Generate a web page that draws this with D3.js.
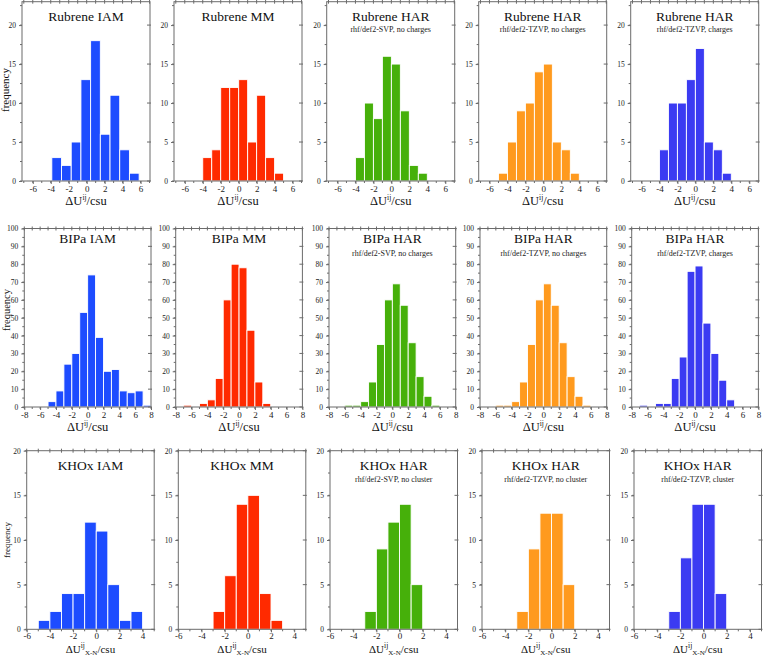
<!DOCTYPE html>
<html><head><meta charset="utf-8">
<script src="https://cdn.jsdelivr.net/npm/d3@7"></script>
<style>body{margin:0;background:#fff}svg{display:block}</style>
</head><body>
<script>
// ---- data ----
const titles = [
  ["Rubrene IAM","Rubrene MM","Rubrene HAR","Rubrene HAR","Rubrene HAR"],
  ["BIPa IAM","BIPa MM","BIPa HAR","BIPa HAR","BIPa HAR"],
  ["KHOx IAM","KHOx MM","KHOx HAR","KHOx HAR","KHOx HAR"]
];
const subtitles = [
  ["","","rhf/def2-SVP, no charges","rhf/def2-TZVP, no charges","rhf/def2-TZVP, charges"],
  ["","","rhf/def2-SVP, no charges","rhf/def2-TZVP, no charges","rhf/def2-TZVP, charges"],
  ["","","rhf/def2-SVP, no cluster","rhf/def2-TZVP, no cluster","rhf/def2-TZVP,  cluster"]
];
const rubreneCounts = [
  [3,2,5,13,18,6,11,4,1],
  [3,4,12,12,13,5,11,3,1],
  [3,10,8,16,15,9,2,1],
  [1,5,9,10,14,15,5,4,1],
  [4,10,10,13,17,5,4,1]
];
const rubreneStarts = [-3.88,-4,-4,-5,-4];
const rubreneWidths = [1.08,1,1,1,1];
const bipaCounts = [
  [3,9,24,30,53,74,39,20,21,9,8,9,1],
  [1,0,2,4,16,60,80,78,43,14,2],
  [1,1,3,14,35,60,69,57,36,17,6,1],
  [1,1,3,14,35,60,69,57,36,17,6,1],
  [1,0,2,2,16,28,76,79,47,30,15,4]
];
const bipaStarts = [-5,-7,-6,-6,-7];
const bipaWidths = [1,1,1,1,1];
const khoxCounts = [
  [1,2,4,4,12,11,5,1,2],
  [2,6,14,15,4,1],
  [2,9,12,14,5],
  [2,9,13,13,5],
  [2,8,14,14,4]
];
const khoxStarts = [-5,-3,-3,-3,-3];
const khoxWidths = [1,1,1,1,1];
const xTicks = [[-6,-4,-2,0,2,4,6],[-8,-6,-4,-2,0,2,4,6,8],[-6,-4,-2,0,2,4]];
const yTicks = [[0,5,10,15,20],[0,10,20,30,40,50,60,70,80,90,100],[0,5,10,15,20]];
const xDomains = [[-7.2,7.05],[-8,8],[-6,5]];
const yDomains = [[0,23],[0,100],[0,20]];
const colors = ["#1d4cff","#ff2a00","#46b00a","#ff9a1e","#3b3bf2"];

const counts = [rubreneCounts,bipaCounts,khoxCounts];
const starts = [rubreneStarts,bipaStarts,khoxStarts];
const widths = [rubreneWidths,bipaWidths,khoxWidths];

// ---- layout ----
const W = 764, H = 656;
const FONT = "'Liberation Serif','DejaVu Serif','Times New Roman',serif";
const rows = [
  {top:1.7, bottom:181, lefts:[22,174,326.7,478.7,630.7], w:128, titleY:21, subY:32, xlabY:205, xlabSize:12.5, tickDy:"0.6em", freqX:9, freqY:90, freqSize:11},
  {top:228.5, bottom:407, lefts:[24.3,175.7,329,480,631.7], w:126.7, titleY:243, subY:256, xlabY:431, xlabSize:12.5, tickDy:"0.6em", freqX:9.5, freqY:310, freqSize:10.5},
  {top:450.7, bottom:629.3, lefts:[26.7,178.3,330,482,634], w:127.5, titleY:470, subY:482, xlabY:652.5, xlabSize:11, tickDy:"0.45em", freqX:9.5, freqY:540, freqSize:9}
];
const svg = d3.select("body").append("svg").attr("width",W).attr("height",H)
  .attr("font-family",FONT).style("font-family",FONT);
const axisCol = "#6b6b6b";

rows.forEach((r,ri)=>{
  r.lefts.forEach((L,pi)=>{
    const x = d3.scaleLinear().domain(xDomains[ri]).range([L, L+r.w]);
    const y = d3.scaleLinear().domain(yDomains[ri]).range([r.bottom, r.top]);
    const g = svg.append("g");
    // bars
    const data = counts[ri][pi].map((c,i)=>({x0:starts[ri][pi]+i*widths[ri][pi], x1:starts[ri][pi]+(i+1)*widths[ri][pi], c}));
    g.selectAll("rect.bar").data(data.filter(d=>d.c>0)).join("rect")
      .attr("x",d=>x(d.x0)).attr("width",d=>x(d.x1)-x(d.x0))
      .attr("y",d=>y(d.c)).attr("height",d=>y(0)-y(d.c))
      .attr("fill",colors[pi]).attr("stroke","#fff").attr("stroke-width",0.9);
    // frame
    g.append("rect").attr("x",L).attr("y",r.top).attr("width",r.w).attr("height",r.bottom-r.top)
      .attr("fill","none").attr("stroke",axisCol).attr("stroke-width",1);
    // bottom axis
    const xb = d3.axisBottom(x).tickValues(xTicks[ri]).tickSize(3).tickFormat(d=>d<0?"-"+Math.abs(d):d);
    const ga = g.append("g").attr("transform",`translate(0,${r.bottom})`).call(xb);
    ga.attr("font-family",FONT);
    ga.select(".domain").remove();
    ga.selectAll("line").attr("stroke",axisCol);
    ga.selectAll("text").attr("font-size",9).attr("fill","#222").attr("dy",r.tickDy);
    // minor ticks bottom & top (every 1 unit)
    const minorX = d3.range(Math.ceil(xDomains[ri][0]), Math.floor(xDomains[ri][1])+1);
    g.selectAll("line.mb").data(minorX).join("line")
      .attr("x1",d=>x(d)).attr("x2",d=>x(d)).attr("y1",r.bottom).attr("y2",r.bottom+2).attr("stroke",axisCol);
    g.selectAll("line.mt").data(minorX).join("line")
      .attr("x1",d=>x(d)).attr("x2",d=>x(d)).attr("y1",r.top-2).attr("y2",r.top+2).attr("stroke",axisCol);
    // left axis
    const yl = d3.axisLeft(y).tickValues(yTicks[ri]).tickSize(3);
    const gl = g.append("g").attr("transform",`translate(${L},0)`).call(yl);
    gl.attr("font-family",FONT);
    gl.select(".domain").remove();
    gl.selectAll("line").attr("stroke",axisCol);
    gl.selectAll("text").attr("font-size",7.5).attr("fill","#222");
    const yStep = yTicks[ri][1]-yTicks[ri][0];
    const minorY = d3.range(yDomains[ri][0], yDomains[ri][1]+0.001, yStep/2);
    g.selectAll("line.ml").data(minorY).join("line")
      .attr("x1",L-2).attr("x2",L).attr("y1",d=>y(d)).attr("y2",d=>y(d)).attr("stroke",axisCol);
    // right axis ticks inward
    g.selectAll("line.mr").data(yTicks[ri]).join("line")
      .attr("x1",L+r.w-3).attr("x2",L+r.w+1).attr("y1",d=>y(d)).attr("y2",d=>y(d)).attr("stroke",axisCol);
    // titles
    const cx = L + r.w/2;
    g.append("text").attr("x",cx).attr("y",r.titleY).attr("text-anchor","middle")
      .attr("font-size",13.5).attr("fill","#111").text(titles[ri][pi]);
    if (subtitles[ri][pi]) {
      g.append("text").attr("x",cx).attr("y",r.subY).attr("text-anchor","middle")
        .attr("font-size",8).attr("fill","#222").text(subtitles[ri][pi]);
    }
    // x label
    const xl = g.append("text").attr("x",cx).attr("y",r.xlabY).attr("text-anchor","middle")
      .attr("font-size",r.xlabSize).attr("fill","#111");
    xl.append("tspan").text("ΔU");
    xl.append("tspan").attr("font-size",7.5).attr("dy",-5).text("ij");
    if (ri===2) {
      xl.append("tspan").attr("font-size",7).attr("dy",7).text("X-N");
      xl.append("tspan").attr("dy",-2).text("/csu");
    } else {
      xl.append("tspan").attr("dy",5).text("/csu");
    }
    if (pi===0) {
      svg.append("text").attr("transform",`translate(${r.freqX},${r.freqY}) rotate(-90)`)
        .attr("text-anchor","middle").attr("font-size",r.freqSize).attr("fill","#111").text("frequency");
    }
  });
});
</script>
</body></html>
